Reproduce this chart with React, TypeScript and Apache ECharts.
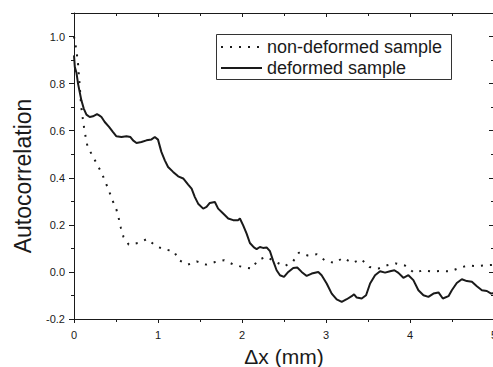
import React, { useEffect, useRef } from "react";
import * as echarts from "echarts";

const nonDeformedX = [0, 0.02, 0.036, 0.048, 0.056, 0.066, 0.08, 0.09, 0.105, 0.12, 0.139, 0.16, 0.21, 0.27, 0.33, 0.374, 0.417, 0.458, 0.505, 0.533, 0.557, 0.589, 0.652, 0.763, 0.87, 0.977, 1.085, 1.19, 1.248, 1.355, 1.46, 1.573, 1.68, 1.788, 1.9, 2.007, 2.114, 2.19, 2.285, 2.39, 2.503, 2.603, 2.678, 2.78, 2.889, 2.99, 3.1, 3.206, 3.313, 3.42, 3.516, 3.62, 3.727, 3.83, 3.94, 4.05, 4.156, 4.263, 4.374, 4.48, 4.58, 4.684, 4.79, 4.9, 5.0];
const nonDeformedY = [1.0, 0.96, 0.92, 0.885, 0.845, 0.8, 0.73, 0.69, 0.651, 0.613, 0.573, 0.534, 0.5, 0.46, 0.42, 0.382, 0.344, 0.304, 0.265, 0.227, 0.189, 0.149, 0.116, 0.123, 0.14, 0.109, 0.095, 0.088, 0.05, 0.031, 0.045, 0.031, 0.042, 0.05, 0.031, 0.021, 0.014, 0.05, 0.064, 0.045, 0.024, 0.042, 0.082, 0.07, 0.075, 0.048, 0.038, 0.06, 0.038, 0.054, 0.021, 0.014, 0.028, 0.036, 0.027, -0.004, 0.007, 0.002, 0.004, 0.002, 0.016, 0.027, 0.025, 0.028, 0.03];

const deformedX = [0, 0.01, 0.03, 0.048, 0.068, 0.088, 0.116, 0.148, 0.187, 0.226, 0.274, 0.3, 0.327, 0.366, 0.417, 0.465, 0.505, 0.565, 0.625, 0.672, 0.703, 0.744, 0.803, 0.863, 0.923, 0.962, 1.0, 1.04, 1.081, 1.12, 1.18, 1.24, 1.3, 1.359, 1.4, 1.439, 1.478, 1.538, 1.578, 1.617, 1.677, 1.716, 1.776, 1.836, 1.895, 1.955, 1.975, 2.014, 2.055, 2.094, 2.142, 2.174, 2.213, 2.25, 2.293, 2.333, 2.372, 2.412, 2.452, 2.5, 2.551, 2.61, 2.658, 2.71, 2.77, 2.83, 2.908, 2.948, 3.008, 3.068, 3.127, 3.187, 3.247, 3.306, 3.334, 3.366, 3.425, 3.477, 3.525, 3.584, 3.644, 3.703, 3.763, 3.814, 3.862, 3.921, 3.981, 4.04, 4.1, 4.16, 4.219, 4.279, 4.339, 4.391, 4.458, 4.498, 4.557, 4.617, 4.677, 4.737, 4.796, 4.856, 4.915, 4.966, 5.0];
const deformedY = [0.92, 0.87, 0.845, 0.8, 0.764, 0.729, 0.694, 0.668, 0.658, 0.661, 0.67, 0.665, 0.658, 0.637, 0.616, 0.594, 0.576, 0.573, 0.576, 0.573, 0.559, 0.548, 0.552, 0.559, 0.563, 0.573, 0.562, 0.51, 0.474, 0.446, 0.425, 0.406, 0.397, 0.371, 0.354, 0.318, 0.29, 0.269, 0.276, 0.293, 0.297, 0.269, 0.248, 0.227, 0.22, 0.22, 0.227, 0.198, 0.163, 0.123, 0.104, 0.097, 0.106, 0.102, 0.104, 0.088, 0.046, 0.007, -0.014, -0.021, 0, 0.017, 0.019, 0, -0.017, -0.007, 0, -0.014, -0.049, -0.092, -0.117, -0.127, -0.116, -0.103, -0.095, -0.109, -0.113, -0.099, -0.049, -0.014, 0.003, -0.003, 0.003, 0.007, -0.004, -0.025, -0.014, -0.035, -0.078, -0.099, -0.106, -0.092, -0.087, -0.113, -0.103, -0.078, -0.047, -0.031, -0.039, -0.042, -0.061, -0.078, -0.081, -0.092, -0.09];

const yMajorTicks = [-0.2, 0, 0.2, 0.4, 0.6, 0.8, 1.0];
const seriesNames = ["non-deformed sample", "deformed sample"];
const xTitle = "Δx (mm)";
const yTitle = "Autocorrelation";

const FONT = "'Liberation Sans', Arial, Helvetica, sans-serif";
const INK = "#1a1a1a";

function zip(xs: number[], ys: number[]) {
  return xs.map((x, i) => [x, ys[i]]);
}

export default function App() {
  const ref = useRef<HTMLDivElement>(null);
  useEffect(() => {
    if (!ref.current) return;
    const chart = echarts.init(ref.current, null, { renderer: "svg" });
    const yBase = {
      type: "value" as const,
      min: -0.2,
      max: 1.1,
      interval: 0.1,
      splitLine: { show: false },
    };
    chart.setOption({
      animation: false,
      backgroundColor: "#ffffff",
      textStyle: { fontFamily: FONT },
      grid: { left: 74, top: 13, width: 420, height: 306, containLabel: false, outerBoundsMode: "none" },
      graphic: [
        {
          type: "rect",
          left: 216,
          top: 34,
          z: 100,
          shape: { width: 235, height: 45 },
          style: { fill: "#ffffff", stroke: "#333", lineWidth: 1 },
        },
      ],
      legend: {
        orient: "vertical",
        left: 217,
        top: 35,
        z: 110,
        itemWidth: 41,
        itemHeight: 10,
        itemGap: 3,
        padding: [3, 4, 2, 3],
        borderWidth: 0,
        itemStyle: { opacity: 0 },
        textStyle: { fontSize: 18, color: INK, fontFamily: FONT },
        data: seriesNames,
      },
      xAxis: [
        {
          type: "value",
          position: "bottom",
          min: 0,
          max: 5,
          interval: 1,
          axisLine: { show: true, onZero: false, lineStyle: { color: INK, width: 1 } },
          axisTick: { show: true, inside: false, length: 4, lineStyle: { color: INK } },
          minorTick: { show: true, splitNumber: 2, length: 3, lineStyle: { color: INK } },
          axisLabel: { margin: 10, fontSize: 11, color: INK, fontFamily: FONT },
          splitLine: { show: false },
          name: xTitle,
          nameLocation: "middle",
          nameGap: 27,
          nameTextStyle: { fontSize: 21, color: INK, fontFamily: FONT },
        },
        {
          type: "value",
          position: "top",
          min: 0,
          max: 5,
          interval: 1,
          axisLine: { show: true, onZero: false, lineStyle: { color: INK, width: 1 } },
          axisTick: { show: true, inside: true, length: 4, lineStyle: { color: INK } },
          minorTick: { show: true, splitNumber: 2, length: 3, lineStyle: { color: INK } },
          axisLabel: { show: false },
          splitLine: { show: false },
        },
      ],
      yAxis: [
        {
          ...yBase,
          position: "left",
          axisLine: { show: true, onZero: false, lineStyle: { color: INK, width: 1 } },
          axisTick: { show: true, inside: false, length: 3, lineStyle: { color: INK } },
          axisLabel: {
            margin: 9,
            fontSize: 11,
            color: INK,
            fontFamily: FONT,
            formatter: (v: number) => {
              const t = Math.round(v * 10);
              if (t % 2 !== 0 || t > 10) return "";
              return (t / 10).toFixed(1);
            },
          },
          name: yTitle,
          nameLocation: "middle",
          nameGap: 40,
          nameTextStyle: { fontSize: 23, color: INK, fontFamily: FONT, padding: [0, 20, 0, 0] },
        },
        {
          ...yBase,
          position: "left",
          axisLine: { show: false, onZero: false },
          axisTick: { show: true, inside: false, length: 5, customValues: yMajorTicks, lineStyle: { color: INK } },
          axisLabel: { show: false },
        },
        {
          ...yBase,
          position: "right",
          axisLine: { show: true, onZero: false, lineStyle: { color: INK, width: 1 } },
          axisTick: { show: true, inside: true, length: 3, lineStyle: { color: INK } },
          axisLabel: { show: false },
        },
        {
          ...yBase,
          position: "right",
          axisLine: { show: false, onZero: false },
          axisTick: { show: true, inside: true, length: 5, customValues: yMajorTicks, lineStyle: { color: INK } },
          axisLabel: { show: false },
        },
      ],
      series: [
        {
          name: seriesNames[0],
          type: "line",
          xAxisIndex: 0,
          yAxisIndex: 0,
          symbol: "none",
          data: zip(nonDeformedX, nonDeformedY),
          lineStyle: { color: INK, width: 2, type: [2, 7] },
          itemStyle: { color: INK },
        },
        {
          name: seriesNames[1],
          type: "line",
          xAxisIndex: 0,
          yAxisIndex: 0,
          symbol: "none",
          data: zip(deformedX, deformedY),
          lineStyle: { color: INK, width: 2 },
          itemStyle: { color: INK },
        },
      ],
    });
    return () => chart.dispose();
  }, []);
  return (
    <div
      ref={ref}
      style={{ position: "absolute", left: 0, top: 0, width: 493, height: 367, background: "#fff" }}
    />
  );
}
